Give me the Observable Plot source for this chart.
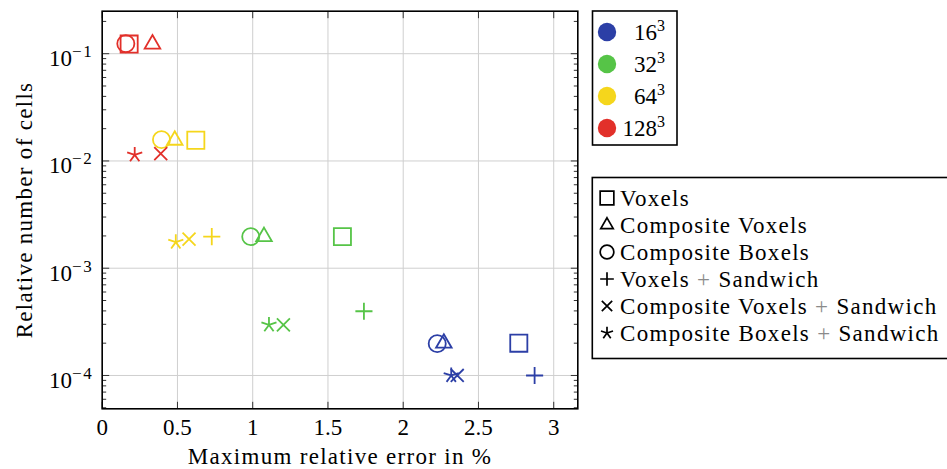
<!DOCTYPE html>
<html>
<head>
<meta charset="utf-8">
<script src="https://cdn.jsdelivr.net/npm/d3@7"></script>
<script src="https://cdn.jsdelivr.net/npm/@observablehq/plot@0.6"></script>
<style>
  body { margin: 0; background: #fff; }
  svg { display: block; }
</style>
</head>
<body>
<div id="chart"></div>
<script>
// ---------- data ----------
const resolutions = ["16", "32", "64", "128"];
const resolutionColors = ["#2c3fa6", "#56c447", "#f5d61c", "#e2302a"];
const methods = [
  "Voxels",
  "Composite Voxels",
  "Composite Boxels",
  "Voxels + Sandwich",
  "Composite Voxels + Sandwich",
  "Composite Boxels + Sandwich"
];
// maximum relative error (%) per resolution 16³, 32³, 64³, 128³
const errVoxels        = [2.768, 1.596, 0.622, 0.179];
const errCompVoxels    = [2.270, 1.075, 0.482, 0.334];
const errCompBoxels    = [2.226, 0.987, 0.394, 0.157];
const errVoxSandwich   = [2.873, 1.739, 0.728, null];
const errCVSandwich    = [2.359, 1.204, 0.577, 0.389];
const errCBSandwich    = [2.319, 1.108, 0.489, 0.216];
// relative number of cells per resolution
const cellsVoxels      = [2.0e-4, 1.97e-3, 0.0156, 0.123];
const cellsCompVoxels  = [2.0e-4, 1.97e-3, 0.0156, 0.123];
const cellsCompBoxels  = [1.98e-4, 1.97e-3, 0.0158, 0.124];
const cellsVoxSandwich = [1.0e-4, 3.97e-4, 1.97e-3, null];
const cellsCVSandwich  = [1.0e-4, 2.96e-4, 1.87e-3, 0.0117];
const cellsCBSandwich  = [1.0e-4, 2.96e-4, 1.75e-3, 0.0114];

const xTicks = [0, 0.5, 1, 1.5, 2, 2.5, 3];
const xTickLabels = ["0", "0.5", "1", "1.5", "2", "2.5", "3"];
const yMajor = [1e-4, 1e-3, 1e-2, 1e-1];
const yTickLabels = ["10|\u22124", "10|\u22123", "10|\u22122", "10|\u22121"];
const xLabel = "Maximum relative error in %";
const yLabel = "Relative number of cells";

const errs = [errVoxels, errCompVoxels, errCompBoxels, errVoxSandwich, errCVSandwich, errCBSandwich];
const cells = [cellsVoxels, cellsCompVoxels, cellsCompBoxels, cellsVoxSandwich, cellsCVSandwich, cellsCBSandwich];
const rows = [];
methods.forEach((m, j) => resolutions.forEach((r, i) => {
  if (errs[j][i] != null) rows.push({method: m, res: r, err: errs[j][i], cells: cells[j][i]});
}));

// minor ticks for the log axis
const yMinor = [];
for (let e = -5; e <= -1; e++) for (let k = 2; k <= 9; k++) {
  const v = k * Math.pow(10, e);
  if (v >= 4.89e-5 && v <= 0.249) yMinor.push(v);
}

// ---------- custom marker shapes (pgfplots-like) ----------
const R = s => Math.sqrt(s / Math.PI);
const symSquare = {draw(c, s) { const r = R(s) * 0.95; c.rect(-r, -r, 2 * r, 2 * r); }};
const symTriangle = {draw(c, s) { const r = R(s); c.moveTo(0, -r); c.lineTo(0.866 * r, 0.5 * r); c.lineTo(-0.866 * r, 0.5 * r); c.closePath(); }};
const symCircle = {draw(c, s) { const r = R(s) * 0.95; c.moveTo(r, 0); c.arc(0, 0, r, 0, 2 * Math.PI); }};
const symPlus = {draw(c, s) { const r = R(s) * 0.95; c.moveTo(-r, 0); c.lineTo(r, 0); c.moveTo(0, -r); c.lineTo(0, r); }};
const symTimes = {draw(c, s) { const r = R(s) * 0.72; c.moveTo(-r, -r); c.lineTo(r, r); c.moveTo(-r, r); c.lineTo(r, -r); }};
const symStar = {draw(c, s) { const r = R(s) * 0.88; for (let k = 0; k < 5; k++) { const a = k * 2 * Math.PI / 5; c.moveTo(0, 0); c.lineTo(r * Math.sin(a), -r * Math.cos(a)); } }};
const methodSymbols = [symSquare, symTriangle, symCircle, symPlus, symTimes, symStar];

const tick = (dx, dy) => ({draw(c) { c.moveTo(0, 0); c.lineTo(dx, dy); }});
const MAJ = 7, MIN = 4;

// ---------- plot ----------
const colorOf = r => resolutionColors[resolutions.indexOf(r)];
const dataMarks = methods.map((m, j) =>
  Plot.dot(rows.filter(d => d.method === m), {
    x: "err", y: "cells", r: 9, symbol: methodSymbols[j],
    stroke: d => colorOf(d.res), fill: "none", strokeWidth: 1.8
  })
);

const font = "'Liberation Serif', 'Times New Roman', 'DejaVu Serif', serif";
const tickStyle = {stroke: "#333", strokeWidth: 1, fill: "none"};
const chart = Plot.plot({
  width: 947, height: 469,
  marginLeft: 101.7, marginRight: 369.7, marginTop: 10.7, marginBottom: 60.7,
  style: {fontFamily: font, fontSize: "23px", background: "white", color: "black", overflow: "visible"},
  x: {domain: [0, 3.16], axis: null},
  y: {type: "log", domain: [4.89e-5, 0.249], axis: null},
  marks: [
    Plot.gridX(xTicks, {stroke: "#cfcfcf", strokeOpacity: 1, strokeWidth: 1}),
    Plot.gridY(yMajor, {stroke: "#cfcfcf", strokeOpacity: 1, strokeWidth: 1}),
    Plot.dot(xTicks, {x: d => d, frameAnchor: "bottom", symbol: tick(0, -MAJ), ...tickStyle}),
    Plot.dot(xTicks, {x: d => d, frameAnchor: "top", symbol: tick(0, MAJ), ...tickStyle}),
    Plot.dot(yMajor, {y: d => d, frameAnchor: "left", symbol: tick(MAJ, 0), ...tickStyle}),
    Plot.dot(yMajor, {y: d => d, frameAnchor: "right", symbol: tick(-MAJ, 0), ...tickStyle}),
    Plot.dot(yMinor, {y: d => d, frameAnchor: "left", symbol: tick(MIN, 0), ...tickStyle}),
    Plot.dot(yMinor, {y: d => d, frameAnchor: "right", symbol: tick(-MIN, 0), ...tickStyle}),
    ...dataMarks,
    Plot.frame({stroke: "black", strokeWidth: 1.6}),
    Plot.text(xTicks, {x: d => d, frameAnchor: "bottom", dy: 18.4, text: (d, i) => xTickLabels[i], textAnchor: "middle", lineAnchor: "middle", fill: "black"}),
    Plot.text(yMajor, {y: d => d, frameAnchor: "left", dx: -9, dy: 5, textAnchor: "end", text: (d, i) => yTickLabels[i], lineAnchor: "middle", fill: "black"}),
    Plot.text([xLabel], {frameAnchor: "bottom", dy: 48.3, text: d => d, textAnchor: "middle", lineAnchor: "middle", fill: "black"}),
    Plot.text([yLabel], {frameAnchor: "left", dx: -78, rotate: -90, text: d => d, textAnchor: "middle", lineAnchor: "middle", fill: "black"})
  ]
});

document.getElementById("chart").appendChild(chart);

const svgNS = "http://www.w3.org/2000/svg";
// superscripts for log tick labels
chart.querySelectorAll("text").forEach(t => {
  if (t.textContent.includes("|")) {
    const [base, exp] = t.textContent.split("|");
    t.textContent = base;
    const ts = document.createElementNS(svgNS, "tspan");
    ts.setAttribute("dy", "-9");
    ts.setAttribute("font-size", "17");
    ts.setAttribute("letter-spacing", "1.5");
    ts.textContent = exp;
    t.appendChild(ts);
  }
});
// letter spacing for axis titles
chart.querySelectorAll("text").forEach(t => {
  if (t.textContent === xLabel || t.textContent === yLabel) t.setAttribute("letter-spacing", "1.3");
});

// ---------- legends ----------
const svg = d3.select(chart);
const g1 = svg.append("g").attr("font-family", font).attr("font-size", 23);
g1.append("rect").attr("x", 592.5).attr("y", 11).attr("width", 84.5).attr("height", 134)
  .attr("fill", "white").attr("stroke", "black").attr("stroke-width", 1.6);
resolutions.forEach((r, i) => {
  const cy = 32 + 32 * i;
  g1.append("circle").attr("cx", 607).attr("cy", cy).attr("r", 9.2).attr("fill", resolutionColors[i]);
  const t = g1.append("text").attr("x", 665).attr("y", cy + 7.8).attr("text-anchor", "end").attr("fill", "black").text(r);
  t.append("tspan").attr("dy", -9).attr("font-size", 16).text("3");
});

const g2 = svg.append("g").attr("font-family", font).attr("font-size", 23);
g2.append("rect").attr("x", 592.3).attr("y", 177.5).attr("width", 362).attr("height", 181)
  .attr("fill", "white").attr("stroke", "black").attr("stroke-width", 1.6);
methods.forEach((m, j) => {
  const cy = 198 + 27 * j;
  const p = d3.path();
  methodSymbols[j].draw(p, Math.PI * 7.2 * 7.2);
  g2.append("path").attr("d", p.toString()).attr("transform", `translate(607,${cy})`)
    .attr("fill", "none").attr("stroke", "black").attr("stroke-width", 1.7);
  const t = g2.append("text").attr("x", 620).attr("y", cy + 7.5).attr("text-anchor", "start")
    .attr("fill", "black").attr("letter-spacing", 1.3);
  const parts = m.split(" + ");
  t.append("tspan").text(parts[0]);
  if (parts.length > 1) {
    t.append("tspan").attr("fill", "#8a8a8a").text(" + ");
    t.append("tspan").text(parts[1]);
  }
});
</script>
</body>
</html>
